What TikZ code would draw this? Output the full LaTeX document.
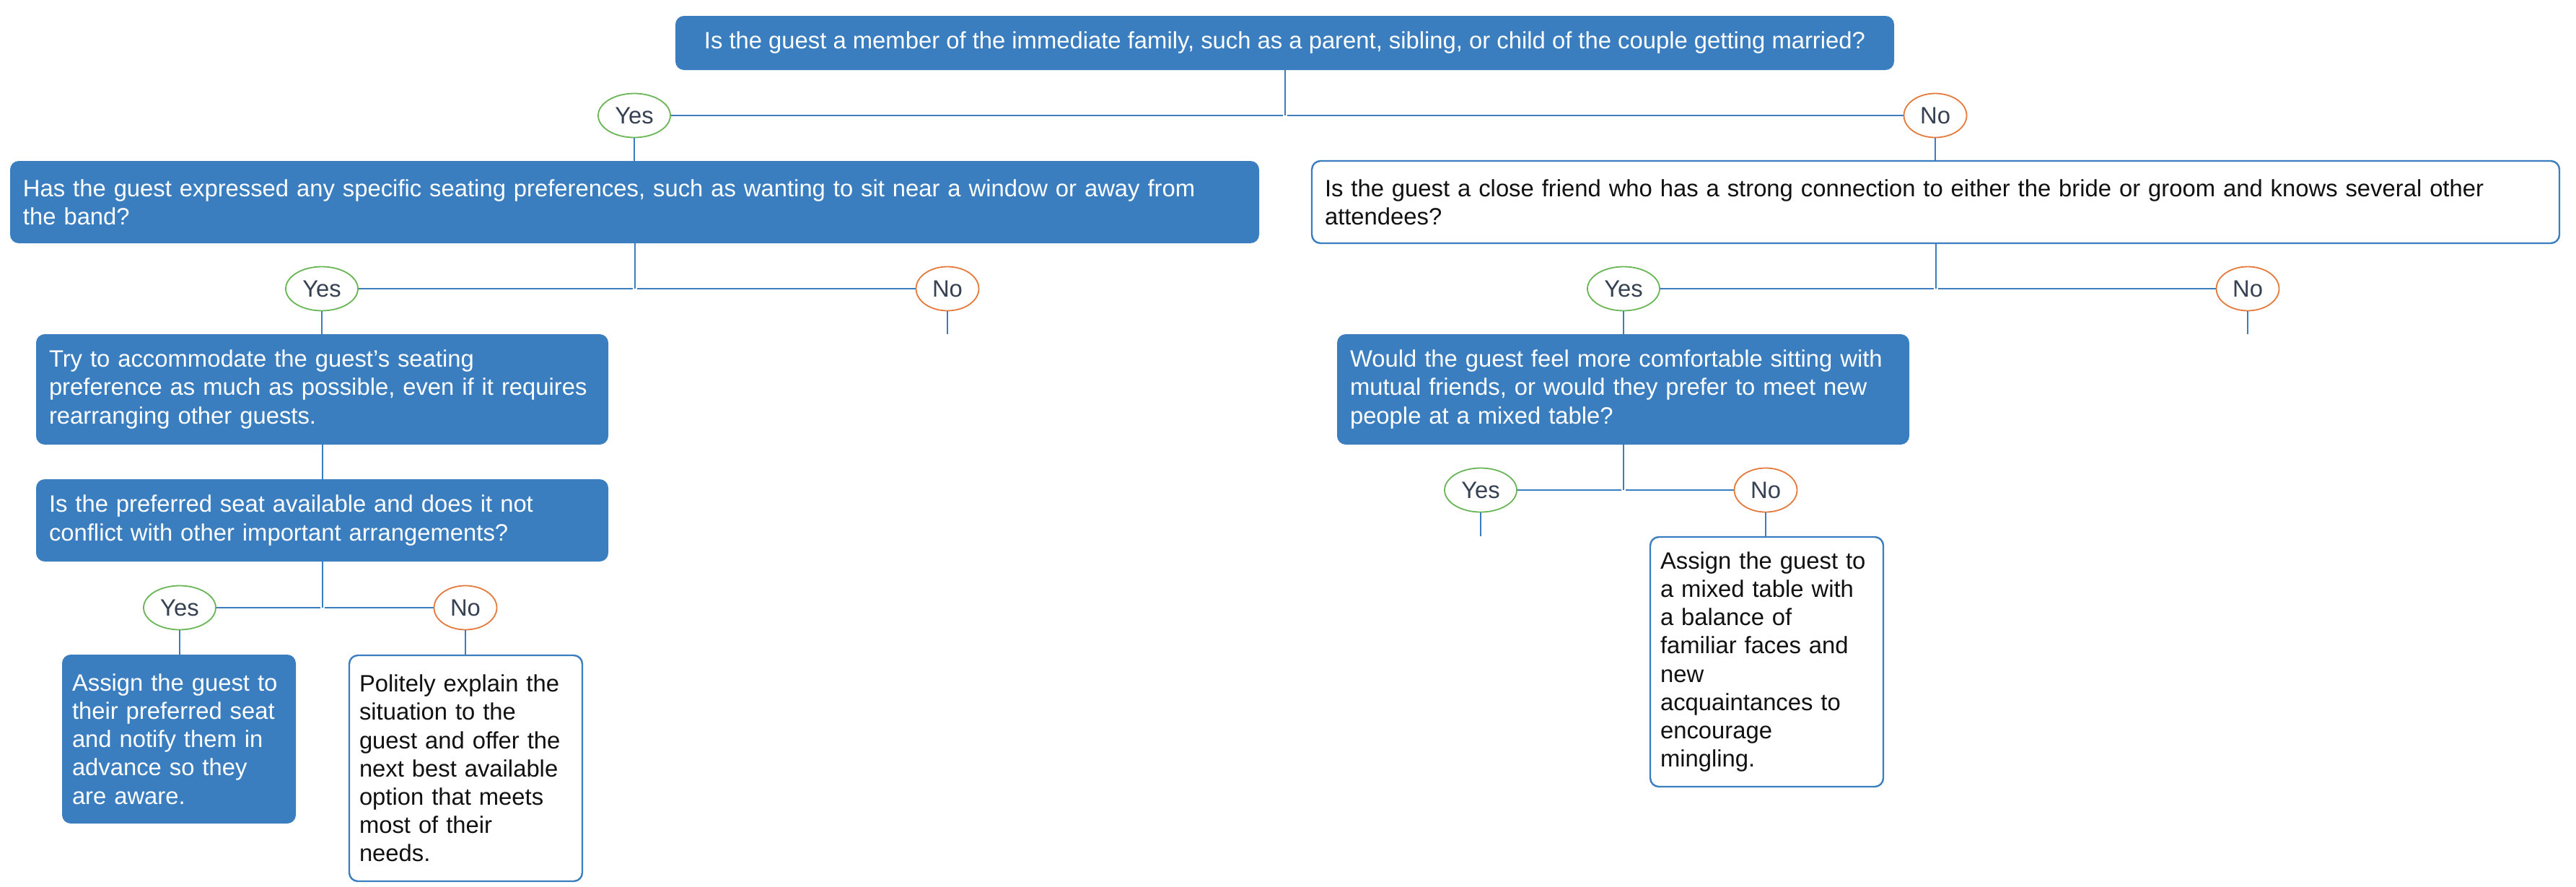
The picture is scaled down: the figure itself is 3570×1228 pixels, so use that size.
\documentclass[tikz,border=0pt]{standalone}
\usepackage{fontspec}
\setmainfont{Liberation Sans}
\usetikzlibrary{shapes.geometric}
\definecolor{bblue}{HTML}{3A7EC0}
\definecolor{ygreen}{HTML}{6AB657}
\definecolor{norange}{HTML}{E57A3C}
\definecolor{lbl}{HTML}{364152}
\definecolor{txt}{HTML}{111111}
\begin{document}
\begin{tikzpicture}[x=0.5pt,y=-0.5pt,
  base/.style={font=\fontsize{16.4pt}{19.6pt}\selectfont},
  fbox/.style={base, rectangle, rounded corners=6pt, fill=bblue, text=white, align=left, inner xsep=9pt, inner ysep=0pt},
  wbox/.style={base, rectangle, rounded corners=6pt, draw=bblue, line width=1.2pt, fill=white, text=txt, align=left, inner xsep=9pt, inner ysep=0pt},
  narrow/.style={inner xsep=7pt, text width=147.5pt},
  yesn/.style={base, ellipse, draw=ygreen, line width=0.9pt, fill=white, text=lbl, minimum width=50pt, minimum height=30.5pt, inner sep=0pt},
  non/.style={base, ellipse, draw=norange, line width=0.9pt, fill=white, text=lbl, minimum width=43.5pt, minimum height=30.5pt, inner sep=0pt},
  vline/.style={draw=bblue, line width=1pt},
  hline/.style={draw=bblue, line width=1.25pt},
]
\useasboundingbox (0,0) rectangle (3570,1228);

% level 0
\node[fbox, align=center, minimum width=844.5pt, minimum height=37.5pt] (q1) at (1780.5,59.5)
  {Is the guest a member of the immediate family, such as a parent, sibling, or child of the couple getting married?};
\node[yesn] (yes1) at (879,160) {Yes};
\node[non] (no1) at (2682,160) {No};

% level 1
\node[fbox, text width=847.5pt, minimum height=57pt] (q2) at (879.5,280)
  {Has the guest expressed any specific seating preferences, such as wanting to sit near a window or away from\\the band?};
\node[wbox, text width=846.5pt, minimum height=57pt] (q3) at (2682.5,280)
  {Is the guest a close friend who has a strong connection to either the bride or groom and knows several other\\attendees?};

\node[yesn] (yes2) at (446,400) {Yes};
\node[non] (no2) at (1313,400) {No};
\node[yesn] (yes3) at (2250,400) {Yes};
\node[non] (no3) at (3115,400) {No};

% level 2 left
\node[fbox, text width=378.5pt, minimum height=76.5pt] (a1) at (446.5,539.5)
  {Try to accommodate the guest’s seating\\preference as much as possible, even if it requires\\rearranging other guests.};
\node[fbox, text width=378.5pt, minimum height=57pt] (q4) at (446.5,721)
  {Is the preferred seat available and does it not\\conflict with other important arrangements?};
\node[yesn] (yes4) at (249,842) {Yes};
\node[non] (no4) at (645,842) {No};
\node[fbox, narrow, text width=148pt, minimum height=117pt] (a2) at (248,1024)
  {Assign the guest to\\their preferred seat\\and notify them in\\advance so they\\are aware.};
\node[wbox, narrow, minimum height=156.5pt] (a3) at (645.5,1064.5)
  {Politely explain the\\situation to the\\guest and offer the\\next best available\\option that meets\\most of their\\needs.};

% level 2 right
\node[fbox, text width=378.5pt, minimum height=76.5pt] (q5) at (2249.5,539.5)
  {Would the guest feel more comfortable sitting with\\mutual friends, or would they prefer to meet new\\people at a mixed table?};
\node[yesn] (yes5) at (2052,679) {Yes};
\node[non] (no5) at (2447,679) {No};
\node[wbox, narrow, minimum height=173pt] (a4) at (2448.5,917)
  {Assign the guest to\\a mixed table with\\a balance of\\familiar faces and\\new\\acquaintances to\\encourage\\mingling.};

% junctions and stubs
\coordinate (j1) at (q1.south |- yes1);
\coordinate (j2) at (q2.south |- yes2);
\coordinate (j3) at (q3.south |- yes3);
\coordinate (j4) at (q4.south |- yes4);
\coordinate (j5) at (q5.south |- yes5);
\coordinate (e2) at (no2.south |- a1.north);
\coordinate (e3) at (no3.south |- q5.north);
\coordinate (e5) at (yes5.south |- a4.north);

% connectors
\draw[vline] (q1.south) -- (j1);
\draw[hline] (yes1.east) -- ([xshift=-1.5pt]j1);
\draw[hline] ([xshift=1.5pt]j1) -- (no1.west);
\draw[vline] (yes1.south) -- (yes1.south |- q2.north);
\draw[vline] (no1.south) -- (no1.south |- q3.north);

\draw[vline] (q2.south) -- (j2);
\draw[hline] (yes2.east) -- ([xshift=-1.5pt]j2);
\draw[hline] ([xshift=1.5pt]j2) -- (no2.west);
\draw[vline] (yes2.south) -- (yes2.south |- a1.north);
\draw[vline] (no2.south) -- (e2);

\draw[vline] (q3.south) -- (j3);
\draw[hline] (yes3.east) -- ([xshift=-1.5pt]j3);
\draw[hline] ([xshift=1.5pt]j3) -- (no3.west);
\draw[vline] (yes3.south) -- (yes3.south |- q5.north);
\draw[vline] (no3.south) -- (e3);

\draw[vline] (a1.south) -- (q4.north);
\draw[vline] (q4.south) -- (j4);
\draw[hline] (yes4.east) -- ([xshift=-1.5pt]j4);
\draw[hline] ([xshift=1.5pt]j4) -- (no4.west);
\draw[vline] (yes4.south) -- (yes4.south |- a2.north);
\draw[vline] (no4.south) -- (no4.south |- a3.north);

\draw[vline] (q5.south) -- (j5);
\draw[hline] (yes5.east) -- ([xshift=-1.5pt]j5);
\draw[hline] ([xshift=1.5pt]j5) -- (no5.west);
\draw[vline] (yes5.south) -- (e5);
\draw[vline] (no5.south) -- (no5.south |- a4.north);
\end{tikzpicture}
\end{document}
